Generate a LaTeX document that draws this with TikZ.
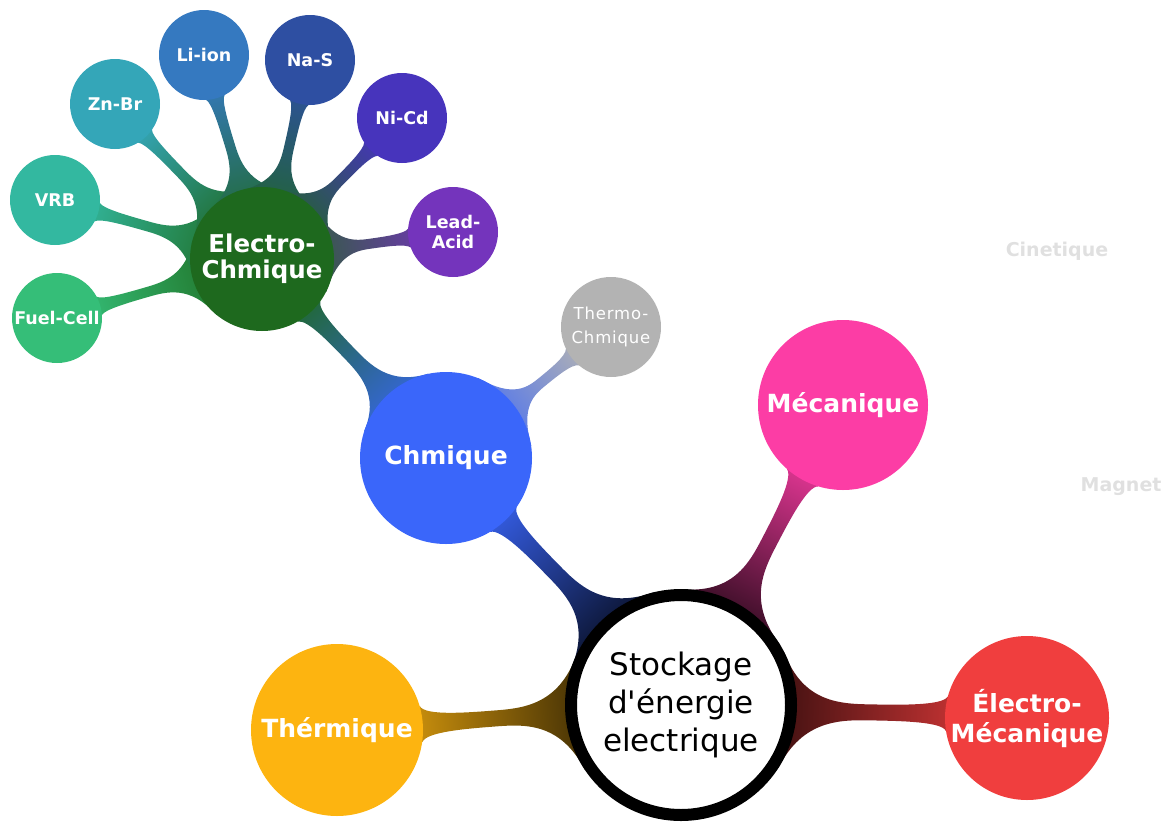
\documentclass[tikz,border=0pt]{standalone}
\usepackage{fontspec}
\setmainfont{DejaVu Sans}
\usetikzlibrary{calc,backgrounds}

\definecolor{thermcol}{RGB}{253,180,16}
\definecolor{emecacol}{RGB}{240,62,62}
\definecolor{mecacol}{RGB}{252,61,165}
\definecolor{chimcol}{RGB}{58,102,250}
\definecolor{tchimcol}{RGB}{179,179,179}
\definecolor{echimcol}{RGB}{30,105,30}
\definecolor{fuelcol}{RGB}{53,190,120}
\definecolor{vrbcol}{RGB}{51,184,160}
\definecolor{znbrcol}{RGB}{52,166,184}
\definecolor{liioncol}{RGB}{53,121,192}
\definecolor{nascol}{RGB}{46,79,162}
\definecolor{nicdcol}{RGB}{71,52,188}
\definecolor{leadcol}{RGB}{116,52,188}

\tikzset{
  bubble/.style={circle, inner sep=0pt, align=center, text=white,
    font=\bfseries\fontsize{25}{30}\selectfont},
  leaf/.style={bubble, minimum size=90pt, font=\bfseries\fontsize{17.5}{20}\selectfont},
  ghost/.style={text=black!12, font=\bfseries\fontsize{19}{22}\selectfont},
}

% tapered branch: parent, child, parent colour, child colour, root angle, neck, fillet
\newcommand\branch[7]{%
  \pgfmathanglebetweenpoints{\pgfpointanchor{#1}{center}}{\pgfpointanchor{#2}{center}}%
  \let\bra\pgfmathresult
  \pgfmathsetmacro\brsh{\bra+90}%
  \pgfmathtruncatemacro\brA{\bra}%
  \pgfmathtruncatemacro\brL{\bra+#5}%
  \pgfmathtruncatemacro\brR{\bra+360-#5}%
  \pgfmathtruncatemacro\kidA{\bra+180}%
  \pgfmathtruncatemacro\kidL{\bra+168}%
  \pgfmathtruncatemacro\kidR{\bra+192}%
  \coordinate (p) at (#1.\brA);
  \coordinate (q) at (#2.\kidA);
  \shade[top color=#3, middle color=#4!65!#3, bottom color=#4, shading angle=\brsh]
    (#1.center) -- (#1.\brL)
    .. controls ($(p)!#7pt!(q)!#6!90:(q)$) and ($(p)!.3!(q)!#6!90:(q)$) .. ($(p)!.5!(q)!#6!90:(q)$)
    .. controls ($(p)!.7!(q)!#6!90:(q)$) and ($(q)!3pt!(p)!#6!-90:(p)$) .. (#2.\kidL)
    -- (#2.center) -- (#2.\kidR)
    .. controls ($(q)!3pt!(p)!#6!90:(p)$) and ($(p)!.7!(q)!#6!-90:(q)$) .. ($(p)!.5!(q)!#6!-90:(q)$)
    .. controls ($(p)!.3!(q)!#6!-90:(q)$) and ($(p)!#7pt!(q)!#6!-90:(q)$) .. (#1.\brR)
    -- cycle;
}

\begin{document}
\begin{tikzpicture}[x=1pt,y=-1pt]
\useasboundingbox (0,0) rectangle (1167,830);

\node[circle, draw=black, line width=12pt, fill=white, minimum size=220pt, inner sep=0pt,
  align=center, font=\fontsize{31}{38}\selectfont] (stock) at (681,705)
  {Stockage\\d\textquotesingle énergie\\electrique};
\node[bubble, fill=thermcol, minimum size=172pt] (therm) at (337,730) {Thérmique};
\node[bubble, fill=emecacol, minimum size=164pt] (emeca) at (1027,718) {Électro-\\Mécanique};
\node[bubble, fill=mecacol, minimum size=170pt] (meca) at (843,405) {Mécanique};
\node[bubble, fill=chimcol, minimum size=172pt] (chim) at (446,458) {Chmique};
\node[bubble, fill=tchimcol, minimum size=100pt,
  font=\fontsize{16.5}{24}\selectfont\addfontfeatures{LetterSpace=5}] (tchim) at (611,327) {Thermo-\\Chmique};
\node[bubble, fill=echimcol, minimum size=144pt, font=\bfseries\fontsize{24.5}{26}\selectfont] (echim) at (262,259) {Electro-\\Chmique};

\foreach \nm/\txt/\col/\px/\py in {fuel/Fuel-Cell/fuelcol/57/318, vrb/VRB/vrbcol/55/200,
    znbr/Zn-Br/znbrcol/115/104, liion/Li-ion/liioncol/204/55, nas/Na-S/nascol/310/60,
    nicd/Ni-Cd/nicdcol/402/118, lead/{Lead-\\Acid}/leadcol/453/232}{
    \node[leaf, fill=\col] (\nm) at (\px,\py) {\txt};
}

\node[ghost] (cine) at (1057,251) {Cinetique};
\node[ghost, anchor=east] (magn) at (1165,487) {Magnet};

\begin{pgfonlayer}{background}
\foreach \kid/\col in {therm/thermcol, emeca/emecacol, meca/mecacol, chim/chimcol}{
    \branch{stock}{\kid}{black}{\col}{30}{8pt}{6}
}
\branch{chim}{echim}{chimcol}{echimcol}{30}{7pt}{5}
\branch{chim}{tchim}{chimcol}{tchimcol}{30}{5pt}{4}
\foreach \kid/\col in {fuel/fuelcol, vrb/vrbcol, znbr/znbrcol, liion/liioncol,
    nas/nascol, nicd/nicdcol, lead/leadcol}{
    \branch{echim}{\kid}{echimcol}{\col}{35}{5pt}{4}
}
\end{pgfonlayer}
\end{tikzpicture}
\end{document}
